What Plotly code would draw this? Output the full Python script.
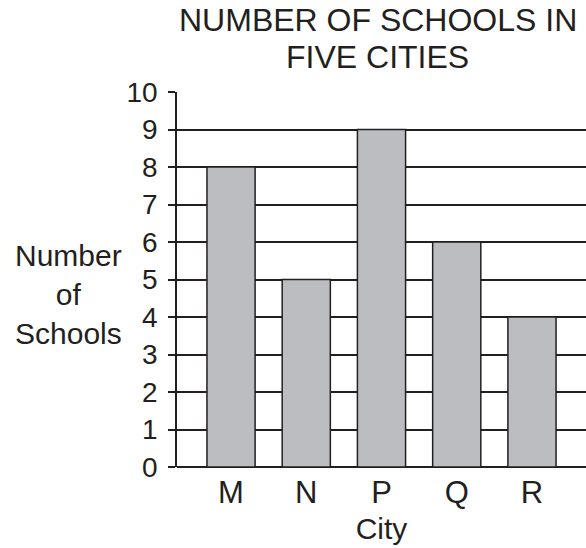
import plotly.graph_objects as go

cities = ["M", "N", "P", "Q", "R"]
schools = [8, 5, 9, 6, 4]
y_ticks = list(range(0, 11))
title_lines = ["NUMBER OF SCHOOLS IN", "FIVE CITIES"]

FONT = "Liberation Sans, Arial, sans-serif"
INK = "#231f20"

fig = go.Figure(go.Bar(
    x=list(range(len(cities))), y=schools,
    width=0.64,
    marker=dict(color="#bcbdc0", line=dict(color=INK, width=1.5)),
))

fig.update_layout(
    width=586, height=548,
    margin=dict(l=177, r=0, t=92, b=81),
    paper_bgcolor="white", plot_bgcolor="white",
    showlegend=False,
    font=dict(family=FONT, size=28, color=INK),
    xaxis=dict(
        tickmode="array", tickvals=list(range(len(cities))), ticktext=cities,
        range=[-0.718, 4.718], showgrid=False, zeroline=False,
        showline=False, ticks="", tickfont=dict(size=31), ticklabelstandoff=4,
        title=dict(text="City", font=dict(size=30), standoff=8),
    ),
    yaxis=dict(
        range=[0, 10], tickvals=y_ticks, showgrid=True, gridcolor=INK,
        gridwidth=1.5, zeroline=True, zerolinecolor=INK, zerolinewidth=1.5,
        showline=True, linecolor=INK, linewidth=1.5,
        ticks="outside", ticklen=7, tickcolor=INK, tickwidth=1.5,
        tickfont=dict(size=28), ticklabelstandoff=5,
    ),
)

for txt, yy in zip(title_lines, [1.193, 1.092]):
    fig.add_annotation(
        text=txt, xref="paper", yref="paper", x=0.491, y=yy,
        xanchor="center", yanchor="middle", showarrow=False,
        font=dict(size=32),
    )

fig.add_annotation(
    text="Number<br>of<br>Schools", xref="paper", yref="paper",
    x=-0.266, y=0.459, xanchor="center", yanchor="middle", showarrow=False,
    font=dict(size=30), align="center",
)

fig.write_html("out.html", config={"displayModeBar": False},
               post_script="document.body.style.margin='0';")
